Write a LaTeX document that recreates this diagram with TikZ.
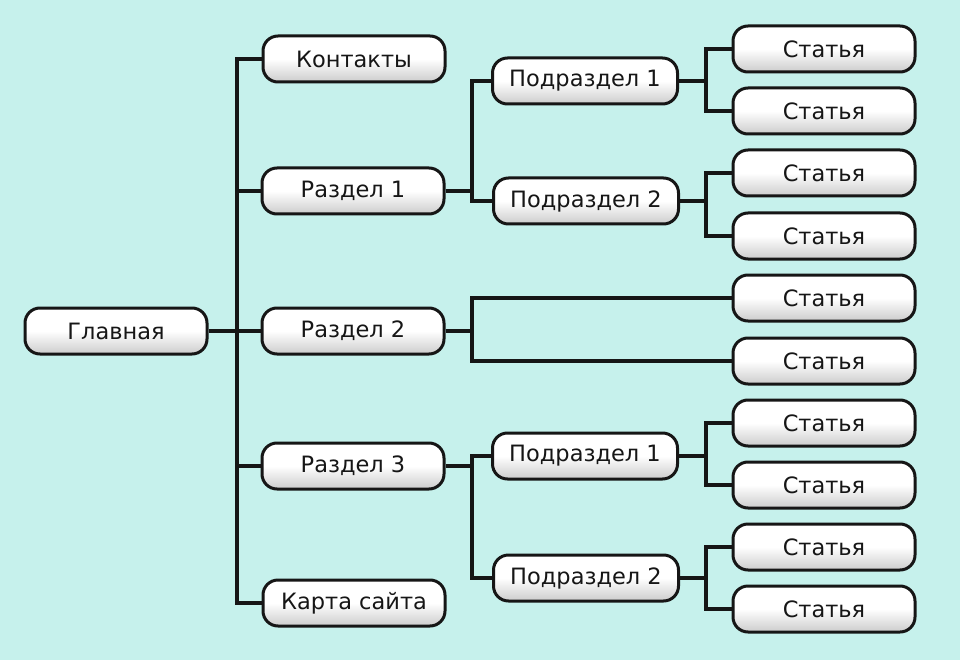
\documentclass[tikz,border=0pt]{standalone}
\usepackage{fontspec}
\setmainfont{DejaVu Sans}
\definecolor{bgmint}{RGB}{198,241,236}
\definecolor{inkdark}{RGB}{22,22,22}
\begin{document}
\begin{tikzpicture}[x=1pt,y=-1pt,
      box/.style={draw=inkdark,line width=3pt,rounded corners=15pt,
        minimum width=182pt,minimum height=46pt,inner sep=0pt,
        top color=white,bottom color=black!20,middle color=white,
        text=inkdark,font=\fontsize{22.5}{26}\selectfont},
      sub box/.style={box,minimum width=185pt},
      link/.style={draw=inkdark,line width=4pt}]

      \fill[bgmint] (0,0) rectangle (960,660);
      \useasboundingbox (0,0) rectangle (960,660);

      % junction columns
      \coordinate (trunk) at (237,0);
      \coordinate (fork) at (472,0);
      \coordinate (twig) at (706,0);

      % main column
      \node[box] (home) at (116,331) {Главная};
      \node[box] (contacts) at (354,59) {Контакты};
      \node[box] (sec1) at (353,191) {Раздел 1};
      \node[box] (sec2) at (353,331) {Раздел 2};
      \node[box] (sec3) at (353,466) {Раздел 3};
      \node[box] (sitemap) at (354,603) {Карта сайта};

      % subsections
      \node[sub box] (sub11) at (585,81) {Подраздел 1};
      \node[sub box] (sub12) at (586,201) {Подраздел 2};
      \node[sub box] (sub31) at (585,456) {Подраздел 1};
      \node[sub box] (sub32) at (586,578) {Подраздел 2};

      % articles
      \foreach \y [count=\i] in {49,111,173,236,298,361,423,485,547,609}
        \node[box] (art\i) at (824,\y) {Статья};

      % trunk
      \draw[link] (home.east) -- (sec2.west);
      \draw[link] (contacts.west) -- (contacts.west -| trunk) |- (sitemap.west);
      \draw[link] (sec1.west) -- (sec1.west -| trunk);
      \draw[link] (sec3.west) -- (sec3.west -| trunk);

      % section branches
      \draw[link] (sec1.east) -- (sec1.east -| fork);
      \draw[link] (sub11.west) -- (sub11.west -| fork) |- (sub12.west);
      \draw[link] (sec3.east) -- (sec3.east -| fork);
      \draw[link] (sub31.west) -- (sub31.west -| fork) |- (sub32.west);
      \draw[link] (sec2.east) -- (sec2.east -| fork);
      \draw[link] (art5.west) -- (art5.west -| fork) |- (art6.west);

      % article branches
      \draw[link] (sub11.east) -- (sub11.east -| twig);
      \draw[link] (art1.west) -- (art1.west -| twig) |- (art2.west);
      \draw[link] (sub12.east) -- (sub12.east -| twig);
      \draw[link] (art3.west) -- (art3.west -| twig) |- (art4.west);
      \draw[link] (sub31.east) -- (sub31.east -| twig);
      \draw[link] (art7.west) -- (art7.west -| twig) |- (art8.west);
      \draw[link] (sub32.east) -- (sub32.east -| twig);
      \draw[link] (art9.west) -- (art9.west -| twig) |- (art10.west);
\end{tikzpicture}
\end{document}
